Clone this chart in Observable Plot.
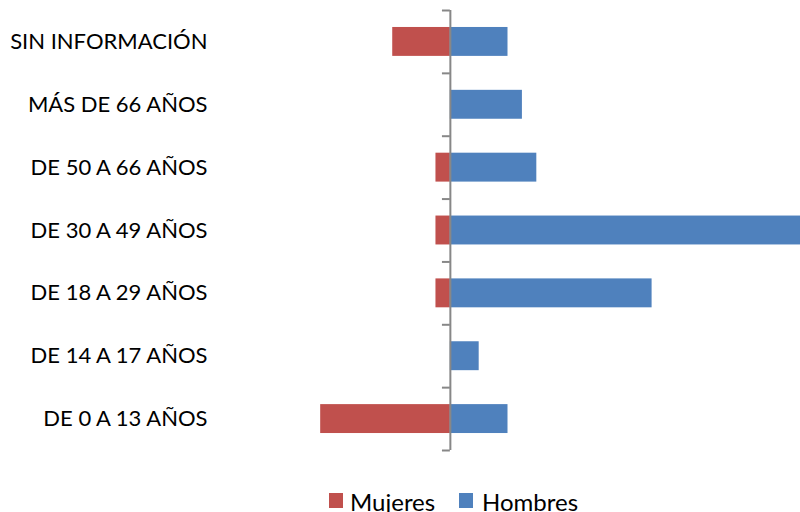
<!DOCTYPE html>
<html>
<head>
<meta charset="utf-8">
<script src="https://cdn.jsdelivr.net/npm/d3@7"></script>
<script src="https://cdn.jsdelivr.net/npm/@observablehq/plot@0.6"></script>
<style>
  body { margin: 0; background: #fff; font-family: Lato, "Open Sans", sans-serif; overflow: hidden; }
  #chart svg { display: block; }
  .legend { position: relative; height: 42px; font-size: 24px; line-height: 1.2; color: #000; }
  .legend .sw { position: absolute; top: 23px; width: 14px; height: 15px; }
  .legend .txt { position: absolute; top: 18px; white-space: nowrap; }
</style>
</head>
<body>
<div id="chart"></div>
<div class="legend" id="legend"></div>
<script>
// categories from bottom to top
const categories = ["DE 0 A 13 AÑOS", "DE 14 A 17 AÑOS", "DE 18 A 29 AÑOS", "DE 30 A 49 AÑOS", "DE 50 A 66 AÑOS", "MÁS DE 66 AÑOS", "SIN INFORMACIÓN"];
const mujeres = [9, 0, 1, 1, 1, 0, 4];
const hombres = [4, 2, 14, 25, 6, 5, 4];
const seriesNames = ["Mujeres", "Hombres"];
const colors = ["#C0504D", "#4F81BD"];

const rows = [];
categories.forEach((c, i) => {
  rows.push({cat: c, i, serie: "Mujeres", v: -mujeres[i]});
  rows.push({cat: c, i, serie: "Hombres", v: hombres[i]});
});
const boundaries = d3.range(-0.5, categories.length, 1);
const half = 0.23;

const chart = Plot.plot({
  width: 800,
  height: 470,
  marginLeft: 215,
  marginRight: 0,
  marginTop: 10,
  marginBottom: 20,
  style: {fontFamily: "Lato, 'Open Sans', sans-serif", fontSize: "22px", color: "#000"},
  x: {domain: [-16.3, 24.3], axis: null},
  y: {domain: [-0.5, categories.length - 0.5], axis: null},
  color: {domain: seriesNames, range: colors},
  marks: [
    Plot.rectX(rows, {x1: 0, x2: "v", y1: d => d.i - half, y2: d => d.i + half, fill: "serie", clip: true}),
    Plot.ruleX([0], {y1: -0.5, y2: categories.length - 0.5, stroke: "#878787", strokeWidth: 2}),
    Plot.ruleY(boundaries, {y: d => d, x1: -0.55, x2: 0, stroke: "#878787", strokeWidth: 2}),
    Plot.axisY(d3.range(categories.length), {
      tickFormat: i => categories[i], tickSize: 0, tickPadding: 8, fontSize: 22, fill: "#000", anchor: "left"
    })
  ]
});
document.getElementById("chart").appendChild(chart);

const legend = document.getElementById("legend");
const swLefts = [329, 459];
const txtLefts = [350, 482];
seriesNames.forEach((s, k) => {
  const sw = document.createElement("span");
  sw.className = "sw";
  sw.style.left = swLefts[k] + "px";
  sw.style.background = colors[k];
  legend.appendChild(sw);
  const t = document.createElement("span");
  t.className = "txt";
  t.style.left = txtLefts[k] + "px";
  t.textContent = s;
  legend.appendChild(t);
});
</script>
</body>
</html>
